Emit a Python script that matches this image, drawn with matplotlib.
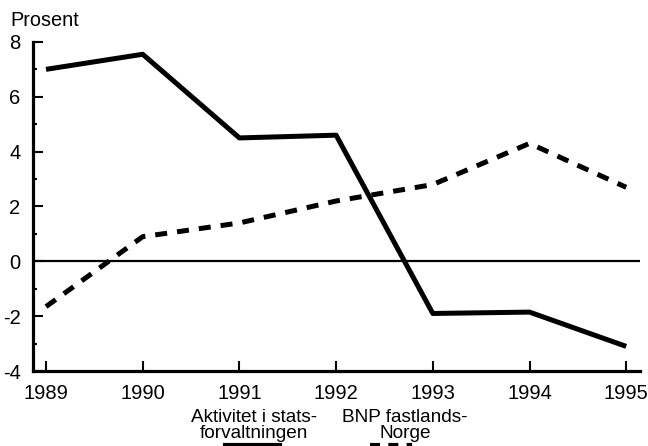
import matplotlib
matplotlib.use("Agg")
import matplotlib.pyplot as plt
from matplotlib.ticker import MultipleLocator
from matplotlib.lines import Line2D

years = [1989, 1990, 1991, 1992, 1993, 1994, 1995]
stat_activity = [7.0, 7.55, 4.5, 4.6, -1.9, -1.85, -3.1]
bnp_mainland = [-1.65, 0.9, 1.4, 2.2, 2.8, 4.3, 2.7]
label_solid = ["Aktivitet i stats-", "forvaltningen"]
label_dashed = ["BNP fastlands-", "Norge"]

plt.rcParams['font.family'] = ['Liberation Sans', 'DejaVu Sans']
plt.rcParams['axes.unicode_minus'] = False

fig = plt.figure(figsize=(6.48, 4.46), dpi=100)
ax = fig.add_axes([0.051, 0.168, 0.937, 0.738])

ax.plot(years, stat_activity, color='black', lw=3.6, solid_capstyle='butt')
ax.plot(years, bnp_mainland, color='black', lw=3.6, dashes=(2.4, 2.0))
ax.axhline(0, color='black', lw=1.6)

ax.set_xlim(1988.866, 1995.145)
ax.set_ylim(-4, 8)
ax.set_xticks(years)
ax.yaxis.set_major_locator(MultipleLocator(2))
ax.yaxis.set_minor_locator(MultipleLocator(1))
ax.tick_params(axis='both', which='both', direction='in', width=1.5, labelsize=14.5, color='black')
ax.tick_params(axis='y', which='major', length=7, pad=9)
ax.tick_params(axis='y', which='minor', length=3)
ax.tick_params(axis='x', which='major', length=7, pad=9)
for s in ['top', 'right']:
    ax.spines[s].set_visible(False)
for s in ['left', 'bottom']:
    ax.spines[s].set_linewidth(2.3)

fig.text(0.0154, 0.9417, "Prosent", fontsize=14.3, ha='left', va='baseline')

fig.text(0.392, 0.0538, label_solid[0], fontsize=13.7, ha='center', va='baseline')
fig.text(0.392, 0.0179, label_solid[1], fontsize=13.7, ha='center', va='baseline')
fig.text(0.625, 0.0538, label_dashed[0], fontsize=13.7, ha='center', va='baseline')
fig.text(0.625, 0.0179, label_dashed[1], fontsize=13.7, ha='center', va='baseline')
fig.add_artist(Line2D([0.347, 0.432], [0.002, 0.002], color='black', lw=3, transform=fig.transFigure))
fig.add_artist(Line2D([0.571, 0.636], [0.002, 0.002], color='black', lw=3, dashes=(2.4, 2.0), transform=fig.transFigure))

fig.savefig("out.png", dpi=100)
